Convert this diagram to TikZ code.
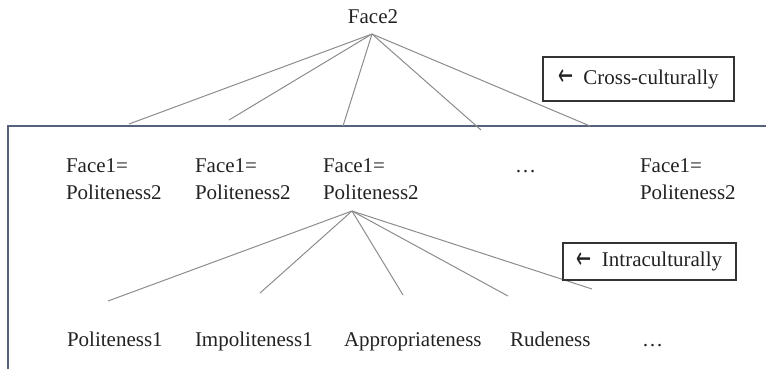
\documentclass[tikz,border=0pt]{standalone}
\usepackage{fontspec}
\setmainfont{Liberation Serif}
\newfontfamily\arrowfont{DejaVu Sans}
\definecolor{txt}{HTML}{222222}
\definecolor{ln}{HTML}{8C8C8C}
\definecolor{frame}{HTML}{56627A}
\definecolor{lbox}{HTML}{333333}
\newcommand{\larr}{\raisebox{-1.5pt}{\scalebox{0.9}[1.5]{\arrowfont\fontsize{20}{22}\selectfont ←}}}
\begin{document}
\begin{tikzpicture}[x=1pt,y=-1pt,
  lbl/.style={inner sep=0pt,outer sep=0pt,text=txt,font=\fontsize{21}{28}\selectfont},
  branch/.style={draw=ln,line width=1pt},
  tagbox/.style={draw=lbox,line width=1.2pt,inner sep=0pt,text=txt,font=\fontsize{21}{28}\selectfont,anchor=center}
]
\useasboundingbox (0,0) rectangle (766,368);
% big frame (open to right and bottom)
\draw[frame,line width=1.3pt] (8,370) -- (8,126) -- (768,126);

% top node
\node[lbl,anchor=base] (face2) at (373,23) {Face2};
\coordinate (a1) at (372,34);

% first row
\node[lbl,anchor=base west] (f1a) at (66,172) {Face1=};
\node[lbl,anchor=base west] (p2a) at (66,199) {Politeness2};
\node[lbl,anchor=base west] (f1b) at (195,172) {Face1=};
\node[lbl,anchor=base west] (p2b) at (195,199) {Politeness2};
\node[lbl,anchor=base west] (f1c) at (323,172) {Face1=};
\node[lbl,anchor=base west] (p2c) at (323,199) {Politeness2};
\node[lbl,anchor=base west] (dots1) at (515,172) {…};
\node[lbl,anchor=base west] (f1e) at (640,172) {Face1=};
\node[lbl,anchor=base west] (p2e) at (640,199) {Politeness2};

% branch ends at the frame
\coordinate (e1) at (129,124);
\coordinate (e2) at (229,120);
\coordinate (e3) at (343,126);
\coordinate (e4) at (481,130);
\coordinate (e5) at (590,126);
\foreach \e in {e1,e2,e3,e4,e5} \draw[branch] (a1) -- (\e);

% second row
\node[lbl,anchor=base west] (pol1) at (67,346) {Politeness1};
\node[lbl,anchor=base west] (imp1) at (195,346) {Impoliteness1};
\node[lbl,anchor=base west] (appr) at (344,346) {Appropriateness};
\node[lbl,anchor=base west] (rude) at (510,346) {Rudeness};
\node[lbl,anchor=base west] (dots2) at (642,346) {…};

\coordinate (a2) at (352,211);
\coordinate (g1) at (108,301);
\coordinate (g2) at (260,293);
\coordinate (g3) at (403,295);
\coordinate (g4) at (508,296);
\coordinate (g5) at (592,289);
\foreach \g in {g1,g2,g3,g4,g5} \draw[branch] (a2) -- (\g);

% labels
\node[tagbox,minimum width=191pt,minimum height=44pt] (cross) at (638.5,79) {\larr\hspace{10pt}Cross-culturally};
\node[tagbox,minimum width=173pt,minimum height=37pt] (intra) at (649.5,261.5) {\larr\hspace{10pt}Intraculturally};
\end{tikzpicture}
\end{document}
